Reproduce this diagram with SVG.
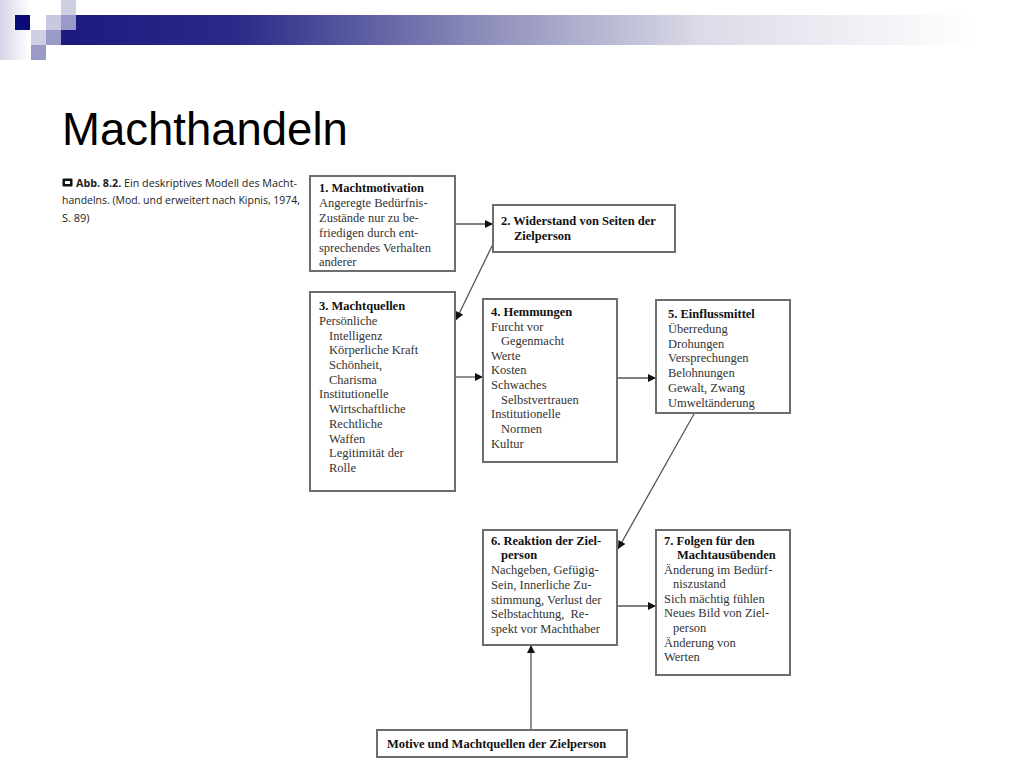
<svg xmlns="http://www.w3.org/2000/svg" width="1024" height="768" viewBox="0 0 1024 768">
<defs>
<linearGradient id="bar" x1="0" y1="0" x2="1" y2="0">
<stop offset="0" stop-color="#1c1c80"/>
<stop offset="0.18" stop-color="#2a2a88"/>
<stop offset="0.45" stop-color="#8c8cba"/>
<stop offset="0.7" stop-color="#dcdce9"/>
<stop offset="1" stop-color="#ffffff"/>
</linearGradient>
<linearGradient id="strip" x1="0" y1="0" x2="1" y2="0">
<stop offset="0" stop-color="#d4d4e6"/>
<stop offset="1" stop-color="#ffffff"/>
</linearGradient>
<marker id="ah" viewBox="0 0 10 10" refX="10" refY="5" markerWidth="9" markerHeight="8" markerUnits="userSpaceOnUse" orient="auto">
<path d="M0,0 L10,5 L0,10 z" fill="#111"/>
</marker>
<style>
.box{fill:#fff;stroke:#6e6e6e;stroke-width:2}
.t{font-family:"Liberation Serif","Times New Roman",serif;font-size:12.5px;fill:#333}
.b{font-family:"Liberation Serif","Times New Roman",serif;font-size:12.5px;font-weight:bold;fill:#111}
.cap{font-family:"Open Sans","Liberation Sans",sans-serif;font-size:11px;fill:#222}
.con{stroke:#555;stroke-width:1.3;fill:none;marker-end:url(#ah)}
</style>
</defs>
<rect width="1024" height="768" fill="#fff"/>
<g id="header">
<rect x="0" y="0" width="30" height="60" fill="url(#strip)"/>
<rect x="76" y="15" width="900" height="30" fill="url(#bar)"/>
<rect x="61" y="30" width="15" height="15" fill="#1c1c80"/>
<rect x="15" y="15" width="15" height="15" fill="#0a0a78"/>
<rect x="46" y="15" width="15" height="15" fill="#c8c8e0"/>
<rect x="61" y="0" width="15" height="15" fill="#cfcfe4"/>
<rect x="61" y="15" width="15" height="15" fill="#9a9ac8"/>
<rect x="31" y="30" width="15" height="15" fill="#cfcfe4"/>
<rect x="46" y="30" width="15" height="15" fill="#9a9ac8"/>
<rect x="31" y="45" width="15" height="15" fill="#9a9ac8"/>
</g>
<text x="62" y="145" font-family="Liberation Sans,Arial,sans-serif" font-size="45.5" fill="#000">Machthandeln</text>
<g id="caption">
<rect x="62.5" y="178.5" width="10" height="8" fill="#111" rx="1"/>
<rect x="65" y="181" width="5" height="3" fill="#fff"/>
<text class="cap" x="76" y="187" textLength="221" lengthAdjust="spacingAndGlyphs"><tspan font-weight="bold">Abb. 8.2.</tspan>  Ein deskriptives Modell des Macht-</text>
<text class="cap" x="62" y="204" textLength="238" lengthAdjust="spacingAndGlyphs">handelns. (Mod. und erweitert nach Kipnis, 1974,</text>
<text class="cap" x="62" y="222">S. 89)</text>
</g>
<g id="connectors">
<line class="con" x1="455" y1="224" x2="493" y2="224"/>
<line class="con" x1="494" y1="242" x2="456" y2="320"/>
<line class="con" x1="455" y1="377" x2="483" y2="377"/>
<line class="con" x1="617" y1="378" x2="656" y2="378"/>
<line class="con" x1="694" y1="414" x2="618" y2="549"/>
<line class="con" x1="617" y1="606" x2="656" y2="606"/>
<line class="con" x1="531" y1="730" x2="531" y2="645"/>
</g>
<g id="n1">
<rect class="box" x="310" y="176" width="145" height="95"/>
<text class="b" x="319" y="192">1. Machtmotivation</text>
<text class="t" x="319" y="207">Angeregte Bedürfnis-</text>
<text class="t" x="319" y="222">Zustände nur zu be-</text>
<text class="t" x="319" y="237">friedigen durch ent-</text>
<text class="t" x="319" y="252">sprechendes Verhalten</text>
<text class="t" x="319" y="266">anderer</text>
</g>
<g id="n2">
<rect class="box" x="493" y="205" width="182" height="47"/>
<text class="b" x="501" y="225">2. Widerstand von Seiten der</text>
<text class="b" x="514" y="240">Zielperson</text>
</g>
<g id="n3">
<rect class="box" x="310" y="292" width="145" height="199"/>
<text class="b" x="319" y="310">3. Machtquellen</text>
<text class="t" x="319" y="325">Persönliche</text>
<text class="t" x="329" y="340">Intelligenz</text>
<text class="t" x="329" y="354">Körperliche Kraft</text>
<text class="t" x="329" y="369">Schönheit,</text>
<text class="t" x="329" y="384">Charisma</text>
<text class="t" x="319" y="398">Institutionelle</text>
<text class="t" x="329" y="413">Wirtschaftliche</text>
<text class="t" x="329" y="428">Rechtliche</text>
<text class="t" x="329" y="443">Waffen</text>
<text class="t" x="329" y="457">Legitimität der</text>
<text class="t" x="329" y="472">Rolle</text>
</g>
<g id="n4">
<rect class="box" x="483" y="299" width="134" height="163"/>
<text class="b" x="491" y="316">4. Hemmungen</text>
<text class="t" x="491" y="331">Furcht vor</text>
<text class="t" x="501" y="345">Gegenmacht</text>
<text class="t" x="491" y="360">Werte</text>
<text class="t" x="491" y="374">Kosten</text>
<text class="t" x="491" y="389">Schwaches</text>
<text class="t" x="501" y="404">Selbstvertrauen</text>
<text class="t" x="491" y="418">Institutionelle</text>
<text class="t" x="501" y="433">Normen</text>
<text class="t" x="491" y="448">Kultur</text>
</g>
<g id="n5">
<rect class="box" x="656" y="300" width="134" height="113"/>
<text class="b" x="668" y="318">5. Einflussmittel</text>
<text class="t" x="668" y="333">Überredung</text>
<text class="t" x="668" y="348">Drohungen</text>
<text class="t" x="668" y="362">Versprechungen</text>
<text class="t" x="668" y="377">Belohnungen</text>
<text class="t" x="668" y="392">Gewalt, Zwang</text>
<text class="t" x="668" y="407">Umweltänderung</text>
</g>
<g id="n6">
<rect class="box" x="483" y="530" width="134" height="115"/>
<text class="b" x="491" y="545">6. Reaktion der Ziel-</text>
<text class="b" x="501" y="559">person</text>
<text class="t" x="491" y="574">Nachgeben, Gefügig-</text>
<text class="t" x="491" y="589">Sein, Innerliche Zu-</text>
<text class="t" x="491" y="604">stimmung, Verlust der</text>
<text class="t" x="491" y="618" xml:space="preserve">Selbstachtung,  Re-</text>
<text class="t" x="491" y="633">spekt vor Machthaber</text>
</g>
<g id="n7">
<rect class="box" x="656" y="530" width="134" height="145"/>
<text class="b" x="664" y="545">7. Folgen für den</text>
<text class="b" x="677" y="559">Machtausübenden</text>
<text class="t" x="664" y="574">Änderung im Bedürf-</text>
<text class="t" x="673" y="588">niszustand</text>
<text class="t" x="664" y="603">Sich mächtig fühlen</text>
<text class="t" x="664" y="617">Neues Bild von Ziel-</text>
<text class="t" x="673" y="632">person</text>
<text class="t" x="664" y="647">Änderung von</text>
<text class="t" x="664" y="661">Werten</text>
</g>
<g id="n8">
<rect class="box" x="377" y="730" width="250" height="27"/>
<text class="b" x="387" y="748">Motive und Machtquellen der Zielperson</text>
</g>
</svg>
